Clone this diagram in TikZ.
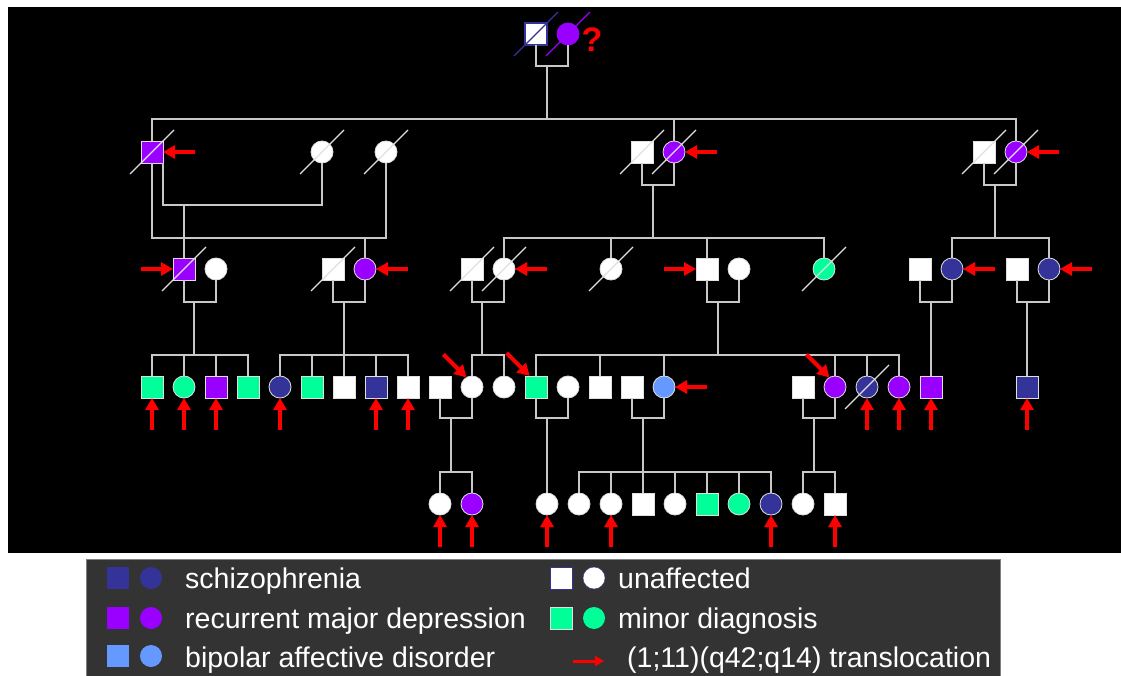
\documentclass[tikz,border=0pt]{standalone}
\usepackage{fontspec}
\setmainfont{Liberation Sans}
\usetikzlibrary{positioning,arrows.meta}

\definecolor{scz}{HTML}{333399}
\definecolor{rmd}{HTML}{9900FF}
\definecolor{bad}{HTML}{6699FF}
\definecolor{mnr}{HTML}{00FF99}
\definecolor{linegray}{HTML}{C8C8C8}
\definecolor{rimgray}{HTML}{E0E0E0}
\definecolor{legbg}{HTML}{333333}

\tikzset{
  person/.style={draw=rimgray, line width=0.8pt, fill=white, minimum size=22pt, inner sep=0pt, outer sep=0pt},
  male/.style={person, rectangle},
  female/.style={person, circle},
  link/.style={draw=linegray, line width=1.4pt},
  slash/.style={draw=rimgray, line width=1.3pt},
  trans/.style={red, line width=4pt, -{Triangle[width=13pt,length=12pt]}},
  keysq/.style={rectangle, minimum size=22pt, inner sep=0pt},
  keyci/.style={circle, minimum size=22pt, inner sep=0pt},
  legtext/.style={anchor=base west, text=white, inner sep=0pt, font=\fontsize{28.5}{30}\selectfont}
}

\begin{document}
\begin{tikzpicture}[x=1pt,y=-1pt,node distance=10pt]
  \useasboundingbox (0,0) rectangle (1121,676);
  \fill[white] (0,0) rectangle (1121,676);
  \fill[black] (8,7) rectangle (1121,553);

  % first generation
  \node[male, draw=scz, line width=1.2pt] (f1) at (536,34) {};
  \node[female, fill=rmd, draw=rmd, right=of f1] (m1) {};
  \node[text=red, font=\fontsize{34}{34}\bfseries\selectfont] (qm) at (592,40) {?};

  % second generation
  \node[male, fill=rmd] (a2) at (152,152) {};
  \node[female] (b2) at (322,152) {};
  \node[female] (c2) at (386,152) {};
  \node[male] (e2) at (642,152) {};
  \node[female, fill=rmd, right=of e2] (d2) {};
  \node[male] (g2) at (984,152) {};
  \node[female, fill=rmd, right=of g2] (h2) {};

  % third generation
  \node[male, fill=rmd] (a3) at (184,269) {};
  \node[female, right=of a3] (b3) {};
  \node[male] (c3) at (333,269) {};
  \node[female, fill=rmd, right=of c3] (d3) {};
  \node[male] (e3) at (472,269) {};
  \node[female, right=of e3] (f3) {};
  \node[female] (g3) at (611,269) {};
  \node[male] (h3) at (707,269) {};
  \node[female, right=of h3] (i3) {};
  \node[female, fill=mnr] (j3) at (824,269) {};
  \node[male] (k3) at (920,269) {};
  \node[female, fill=scz, right=of k3] (l3) {};
  \node[male] (m3) at (1017,269) {};
  \node[female, fill=scz, right=of m3] (n3) {};

  % fourth generation
  \node[male, fill=mnr] (a4) at (152,387) {};
  \node[female, fill=mnr, right=of a4] (b4) {};
  \node[male, fill=rmd, right=of b4] (c4) {};
  \node[male, fill=mnr, right=of c4] (d4) {};
  \node[female, fill=scz, right=of d4] (e4) {};
  \node[male, fill=mnr, right=of e4] (f4) {};
  \node[male, right=of f4] (g4) {};
  \node[male, fill=scz, right=of g4] (h4) {};
  \node[male, right=of h4] (i4) {};
  \node[male, right=of i4] (j4) {};
  \node[female, right=of j4] (k4) {};
  \node[female, right=of k4] (l4) {};
  \node[male, fill=mnr, right=of l4] (m4) {};
  \node[female, right=of m4] (n4) {};
  \node[male, right=of n4] (o4) {};
  \node[male, right=of o4] (p4) {};
  \node[female, fill=bad, right=of p4] (q4) {};
  \node[male] (r4) at (803,387) {};
  \node[female, fill=rmd, right=of r4] (s4) {};
  \node[female, fill=scz, right=of s4] (t4) {};
  \node[female, fill=rmd, right=of t4] (u4) {};
  \node[male, fill=rmd, right=of u4] (v4) {};
  \node[male, fill=scz] (w4) at (1027,387) {};

  % fifth generation
  \node[female] (a5) at (440,504) {};
  \node[female, fill=rmd, right=of a5] (b5) {};
  \node[female] (c5) at (547,504) {};
  \node[female, right=of c5] (d5) {};
  \node[female, right=of d5] (e5) {};
  \node[male, right=of e5] (f5) {};
  \node[female, right=of f5] (g5) {};
  \node[male, fill=mnr, right=of g5] (h5) {};
  \node[female, fill=mnr, right=of h5] (i5) {};
  \node[female, fill=scz, right=of i5] (j5) {};
  \node[female, right=of j5] (k5) {};
  \node[male, right=of k5] (l5) {};

  % marriage and sibship points
  \coordinate (mar1) at (547,66);
  \coordinate (sib1) at (547,119);
  \coordinate (marA) at (184,205);
  \coordinate (marB) at (365,238);
  \coordinate (marC) at (653,185);
  \coordinate (sibC) at (653,238);
  \coordinate (marD) at (995,185);
  \coordinate (sibD) at (995,238);
  \coordinate (marE) at (194,302);
  \coordinate (sibE) at (194,355);
  \coordinate (marF) at (344,302);
  \coordinate (sibF) at (344,355);
  \coordinate (marG) at (482,302);
  \coordinate (sibG) at (482,355);
  \coordinate (marH) at (718,302);
  \coordinate (sibH) at (718,355);
  \coordinate (marI) at (931,302);
  \coordinate (marJ) at (1027,302);
  \coordinate (marK) at (451,418);
  \coordinate (sibK) at (451,472);
  \coordinate (marL) at (547,418);
  \coordinate (marM) at (643,418);
  \coordinate (sibM) at (643,472);
  \coordinate (marN) at (814,418);
  \coordinate (sibN) at (814,472);

  % Now draw the lines
  \draw[link] (f1) |- (mar1) -| (m1);
  \draw[link] (mar1) -- (sib1);
  \foreach \c in {a2,d2,h2} \draw[link] (\c) |- (sib1);

  \draw[link] (a2.south east) |- (marA) -| (b2);
  \draw[link] (marA) -- (a3);
  \draw[link] (a2) |- (marB) -| (c2);
  \draw[link] (marB) -- (d3);
  \draw[link] (e2) |- (marC) -| (d2);
  \draw[link] (marC) -- (sibC);
  \foreach \c in {f3,g3,h3,j3} \draw[link] (\c) |- (sibC);
  \draw[link] (g2) |- (marD) -| (h2);
  \draw[link] (marD) -- (sibD);
  \foreach \c in {l3,n3} \draw[link] (\c) |- (sibD);

  \draw[link] (a3) |- (marE) -| (b3);
  \draw[link] (marE) -- (sibE);
  \foreach \c in {a4,b4,c4,d4} \draw[link] (\c) |- (sibE);
  \draw[link] (c3) |- (marF) -| (d3);
  \draw[link] (marF) -- (sibF);
  \foreach \c in {e4,f4,g4,h4,i4} \draw[link] (\c) |- (sibF);
  \draw[link] (e3) |- (marG) -| (f3);
  \draw[link] (marG) -- (sibG);
  \foreach \c in {k4,l4} \draw[link] (\c) |- (sibG);
  \draw[link] (h3) |- (marH) -| (i3);
  \draw[link] (marH) -- (sibH);
  \foreach \c in {m4,o4,q4,s4,t4,u4} \draw[link] (\c) |- (sibH);
  \draw[link] (k3) |- (marI) -| (l3);
  \draw[link] (marI) -- (v4);
  \draw[link] (m3) |- (marJ) -| (n3);
  \draw[link] (marJ) -- (w4);

  \draw[link] (j4) |- (marK) -| (k4);
  \draw[link] (marK) -- (sibK);
  \foreach \c in {a5,b5} \draw[link] (\c) |- (sibK);
  \draw[link] (m4) |- (marL) -| (n4);
  \draw[link] (marL) -- (c5);
  \draw[link] (p4) |- (marM) -| (q4);
  \draw[link] (marM) -- (sibM);
  \foreach \c in {d5,e5,f5,g5,h5,i5,j5} \draw[link] (\c) |- (sibM);
  \draw[link] (r4) |- (marN) -| (s4);
  \draw[link] (marN) -- (sibN);
  \foreach \c in {k5,l5} \draw[link] (\c) |- (sibN);

  % deceased
  \draw[slash, draw=scz] (f1.center) ++(-22,22) -- ++(44,-44);
  \draw[slash, draw=rmd] (m1.center) ++(-22,22) -- ++(44,-44);
  \foreach \n in {a2,b2,c2,e2,d2,g2,h2,a3,c3,e3,f3,g3,j3,t4}
    \draw[slash] (\n.center) ++(-22,22) -- ++(44,-44);

  % translocation carriers
  \foreach \n in {a2,d2,h2,d3,f3,l3,n3,q4}
    \draw[trans] ([xshift=32pt]\n.east) -- (\n.east);
  \foreach \n in {a3,h3}
    \draw[trans] ([xshift=-32pt]\n.west) -- (\n.west);
  \foreach \n in {k4,m4,s4}
    \draw[trans] ([shift={(-23pt,23pt)}]\n.120) -- (\n.120);
  \foreach \n in {a4,b4,c4,e4,h4,i4,t4,u4,v4,w4,a5,b5,c5,e5,j5,l5}
    \draw[trans] ([yshift=-32pt]\n.south) -- (\n.south);

  % legend
  \draw[draw=gray, fill=legbg] (86,559) rectangle (1000,677);
  \node[keysq, fill=scz] (lsq1) at (118,578) {};
  \node[keyci, fill=scz] (lci1) at (151,578) {};
  \node[legtext] (ltx1) at (185,588) {schizophrenia};
  \node[keysq, fill=rmd] (lsq2) at (118,618) {};
  \node[keyci, fill=rmd] (lci2) at (151,618) {};
  \node[legtext] (ltx2) at (185,628) {recurrent major depression};
  \node[keysq, fill=bad] (lsq3) at (118,656) {};
  \node[keyci, fill=bad] (lci3) at (151,656) {};
  \node[legtext] (ltx3) at (185,667) {bipolar affective disorder};
  \node[keysq, fill=white, draw=scz] (lsq4) at (561,578) {};
  \node[keyci, fill=white, draw=scz] (lci4) at (594,578) {};
  \node[legtext] (ltx4) at (618,588) {unaffected};
  \node[keysq, fill=mnr, draw=rimgray] (lsq5) at (561,618) {};
  \node[keyci, fill=mnr] (lci5) at (594,618) {};
  \node[legtext] (ltx5) at (618,628) {minor diagnosis};
  \coordinate (lga) at (573,661);
  \coordinate (lgb) at (604,661);
  \draw[trans, line width=3pt, -{Triangle[width=10pt,length=9pt]}] (lga) -- (lgb);
  \node[legtext] (ltx6) at (627,667) {(1;11)(q42;q14) translocation};
\end{tikzpicture}
\end{document}
